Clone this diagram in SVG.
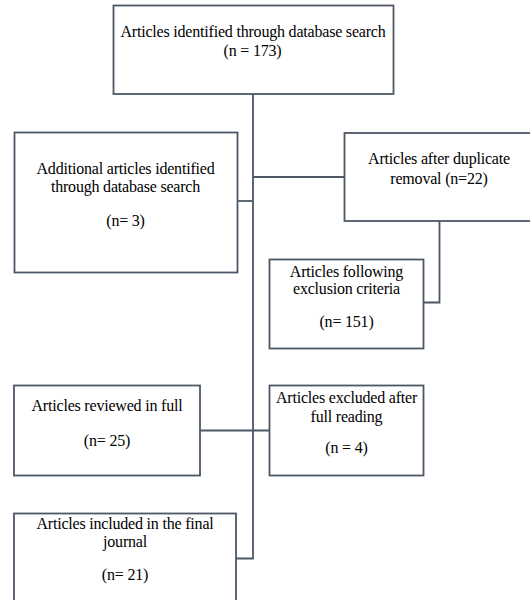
<svg xmlns="http://www.w3.org/2000/svg" width="530" height="600" viewBox="0 0 530 600">
<style>
.box{fill:#fff;stroke:#4d5766;stroke-width:1.8}
.ln{fill:none;stroke:#4d5766;stroke-width:1.8}
text{font-family:"Liberation Serif","Times New Roman",serif;font-size:16px;letter-spacing:-0.2px;fill:#000;text-anchor:middle}
</style>
<rect width="530" height="600" fill="#fff"/>
<g id="connectors">
<path class="ln" d="M253 94V558.5H236"/>
<path class="ln" d="M237.5 201H253"/>
<path class="ln" d="M253 177H344.5"/>
<path class="ln" d="M439.5 221V302.5H423.5"/>
<path class="ln" d="M200 430.5H269.5"/>
</g>
<g id="n1">
<rect class="box" x="113.5" y="5.5" width="280" height="88.5"/>
<text x="253" y="37">Articles identified through database search</text>
<text x="252.5" y="55.5">(n = 173)</text>
</g>
<g id="n2">
<rect class="box" x="14.5" y="132.5" width="223" height="140"/>
<text x="125.5" y="174">Additional articles identified</text>
<text x="125.5" y="191.5">through database search</text>
<text x="125.5" y="226">(n= 3)</text>
</g>
<g id="n3">
<rect class="box" x="344.5" y="133" width="190" height="88"/>
<text x="439" y="164">Articles after duplicate</text>
<text x="439" y="184">removal (n=22)</text>
</g>
<g id="n4">
<rect class="box" x="269.5" y="259.5" width="154" height="89"/>
<text x="346.5" y="276.5">Articles following</text>
<text x="346.5" y="294">exclusion criteria</text>
<text x="346.5" y="326.5">(n= 151)</text>
</g>
<g id="n5">
<rect class="box" x="14" y="385.5" width="186" height="90"/>
<text x="107" y="410.5">Articles reviewed in full</text>
<text x="107" y="446">(n= 25)</text>
</g>
<g id="n6">
<rect class="box" x="269.5" y="385.5" width="154" height="90"/>
<text x="346.5" y="402.5">Articles excluded after</text>
<text x="346.5" y="421.5">full reading</text>
<text x="346.5" y="453">(n = 4)</text>
</g>
<g id="n7">
<rect class="box" x="14" y="513.5" width="222" height="100"/>
<text x="125" y="529">Articles included in the final</text>
<text x="125" y="546.5">journal</text>
<text x="125" y="580">(n= 21)</text>
</g>
</svg>
